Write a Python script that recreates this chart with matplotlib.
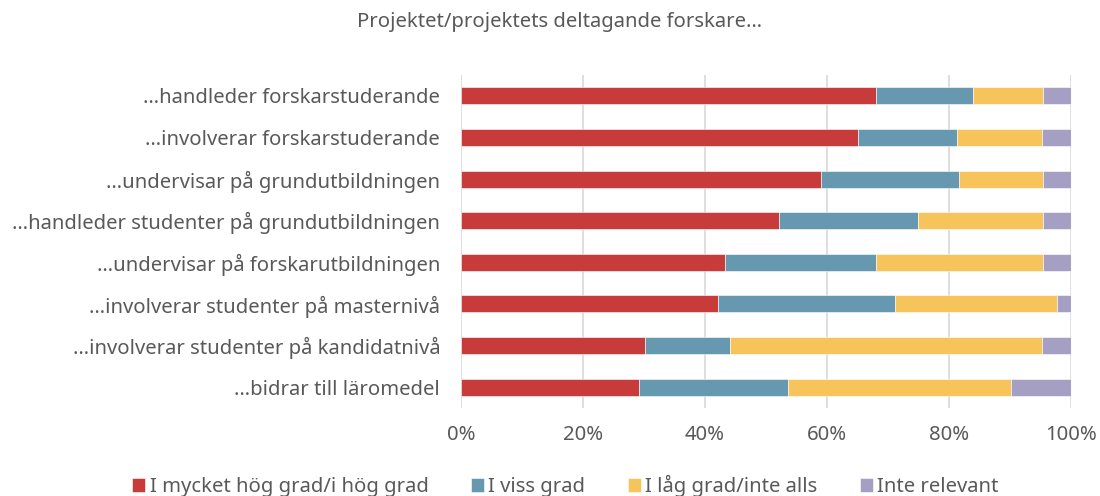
import matplotlib
matplotlib.use("Agg")
import matplotlib.pyplot as plt
import numpy as np
from matplotlib.ticker import FuncFormatter

plt.rcParams['font.family'] = ['Noto Sans', 'DejaVu Sans']

categories = [
    "…handleder forskarstuderande",
    "…involverar forskarstuderande",
    "…undervisar på grundutbildningen",
    "…handleder studenter på grundutbildningen",
    "…undervisar på forskarutbildningen",
    "…involverar studenter på masternivå",
    "…involverar studenter på kandidatnivå",
    "…bidrar till läromedel",
]
series_names = ["I mycket hög grad/i hög grad", "I viss grad", "I låg grad/inte alls", "Inte relevant"]
high = [68.1, 65.0, 59.0, 52.2, 43.2, 42.2, 30.1, 29.2]
some = [15.9, 16.3, 22.7, 22.7, 24.9, 28.9, 14.0, 24.4]
low = [11.4, 14.0, 13.7, 20.5, 27.3, 26.6, 51.2, 36.6]
notrel = [4.6, 4.7, 4.6, 4.6, 4.6, 2.3, 4.7, 9.8]
colors = ["#C83B3B", "#6699B0", "#F6C45B", "#A59FC4"]
title = "Projektet/projektets deltagande forskare…"

text_color = "#595959"
fs = 14.6
fig = plt.figure(figsize=(11, 4.96), dpi=100)
ax = fig.add_axes([461/1100, 1-408/496, 610/1100, 333/496])

y = np.arange(len(categories))
left = np.zeros(len(categories))
for name, vals, c in zip(series_names, [high, some, low, notrel], colors):
    ax.barh(y, vals, left=left, height=0.41, color=c, label=name,
            edgecolor="white", linewidth=0.4, zorder=3)
    left += np.array(vals)

ax.set_ylim(len(categories) - 0.5, -0.5)
ax.set_xlim(0, 100)
ax.set_yticks(y)
ax.set_yticklabels(categories, fontsize=fs, color=text_color)
ax.set_xticks([0, 20, 40, 60, 80, 100])
ax.xaxis.set_major_formatter(FuncFormatter(lambda v, p: f"{int(v)}%"))
ax.tick_params(axis='x', labelsize=fs, colors=text_color, length=0, pad=12)
ax.tick_params(axis='y', length=0, pad=15)
ax.grid(axis='x', color="#D9D9D9", linewidth=1.2, zorder=0)
for s in ax.spines.values():
    s.set_visible(False)

fig.text(0.509, 1-22/496, title, ha='center', va='center', fontsize=fs, color=text_color)

handles, labels = ax.get_legend_handles_labels()
leg = fig.legend(handles, labels, loc='center', bbox_to_anchor=(0.514, 1-486/496), ncol=4,
                 frameon=False, fontsize=fs, handlelength=0.65, handleheight=0.65,
                 handletextpad=0.2, columnspacing=2.1, labelcolor=text_color)

fig.savefig("out.png", dpi=100)
